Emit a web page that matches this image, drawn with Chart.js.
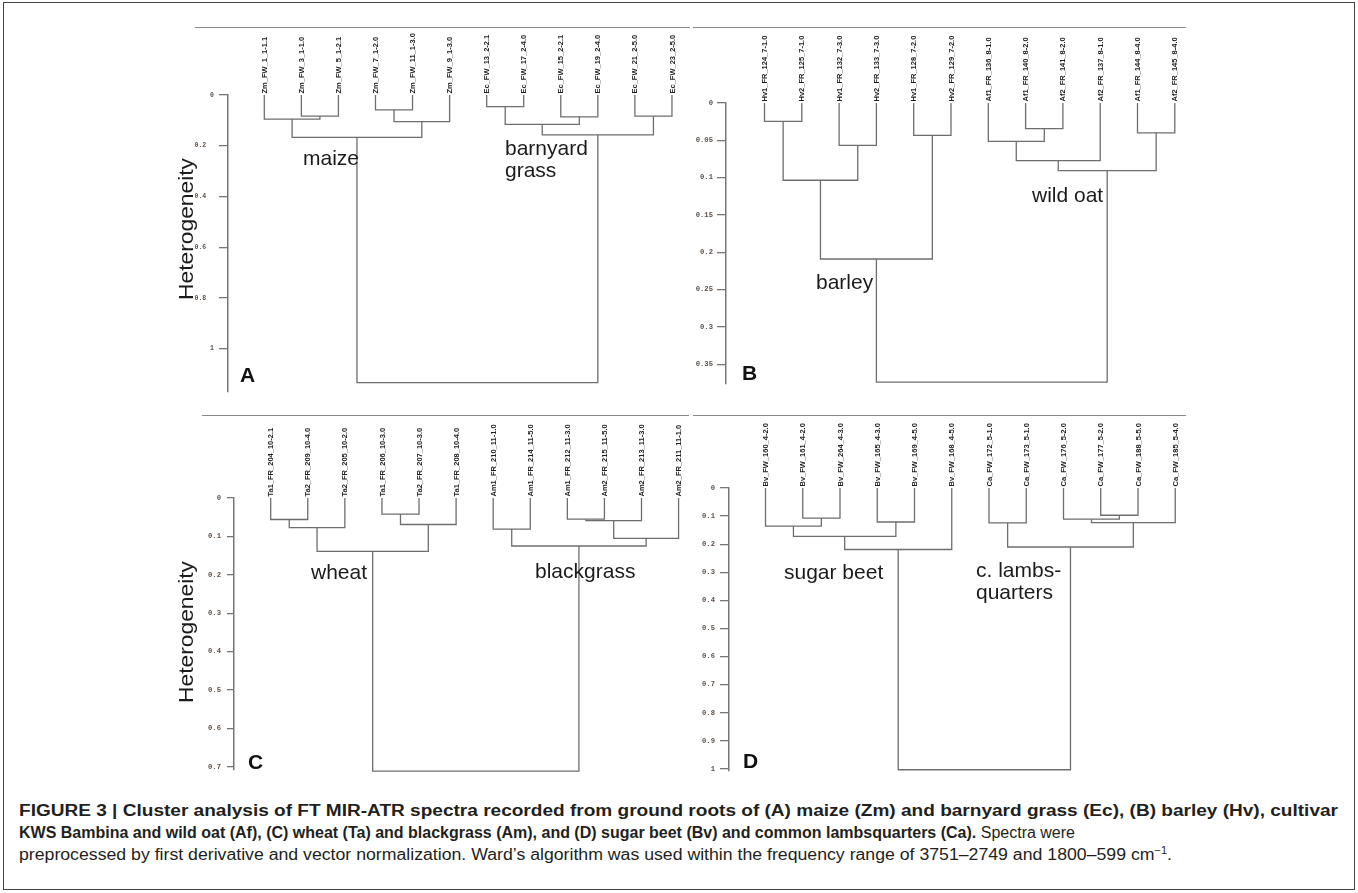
<!DOCTYPE html>
<html>
<head>
<meta charset="utf-8">
<script src="https://cdn.jsdelivr.net/npm/chart.js@4.4.1/dist/chart.umd.min.js"></script>
<style>
  body { margin: 0; background: #fff; width: 1358px; height: 893px; position: relative; overflow: hidden;
         font-family: "Liberation Sans", Arial, sans-serif; }
  .frame { position: absolute; left: 3px; top: 2px; width: 1350px; height: 886px; border: 1px solid #444; }
  canvas { position: absolute; }
  .rule { position: absolute; height: 0; border-top: 1.5px solid #8a8a8a; }
  .lab { position: absolute; font-size: 21px; line-height: 22px; color: #1b1b1b; white-space: nowrap; }
  .pl { position: absolute; font-size: 21px; line-height: 22px; font-weight: bold; color: #111; }
  .ylab { position: absolute; font-size: 20px; line-height: 20px; color: #1b1b1b; white-space: nowrap;
          transform: translate(-50%, -50%) rotate(-90deg) scaleX(1.14); }
  .cap { position: absolute; left: 19px; white-space: nowrap; font-size: 16px; line-height: 18px;
         color: #231f20; transform-origin: 0 50%; }
  .cap sup { font-size: 10px; line-height: 0; }
</style>
</head>
<body>
<div class="frame"></div>

<div class="rule" style="left:195px;top:27px;width:495px"></div>
<div class="rule" style="left:693px;top:27px;width:493px"></div>
<div class="rule" style="left:202px;top:415px;width:487px"></div>
<div class="rule" style="left:693px;top:415px;width:493px"></div>

<canvas id="chartA"></canvas>
<canvas id="chartB"></canvas>
<canvas id="chartC"></canvas>
<canvas id="chartD"></canvas>

<div class="ylab" style="left:186px;top:229px">Heterogeneity</div>
<div class="ylab" style="left:186px;top:632px">Heterogeneity</div>

<div class="lab" style="left:303px;top:147px">maize</div>
<div class="lab" style="left:505px;top:137px">barnyard<br>grass</div>
<div class="lab" style="left:816px;top:271px">barley</div>
<div class="lab" style="left:1032px;top:184px">wild oat</div>
<div class="lab" style="left:311px;top:561px">wheat</div>
<div class="lab" style="left:535px;top:560px">blackgrass</div>
<div class="lab" style="left:784px;top:561px">sugar beet</div>
<div class="lab" style="left:976px;top:559px">c. lambs-<br>quarters</div>

<div class="pl" style="left:240px;top:364px">A</div>
<div class="pl" style="left:742px;top:362px">B</div>
<div class="pl" style="left:248px;top:751px">C</div>
<div class="pl" style="left:743px;top:750px">D</div>

<div class="cap" data-w="1319" style="top:802px"><b>FIGURE 3 | Cluster analysis of FT MIR-ATR spectra recorded from ground roots of (A) maize (Zm) and barnyard grass (Ec), (B) barley (Hv), cultivar</b></div>
<div class="cap" data-w="1056" style="top:824px"><b>KWS Bambina and wild oat (Af), (C) wheat (Ta) and blackgrass (Am), and (D) sugar beet (Bv) and common lambsquarters (Ca).</b> Spectra were</div>
<div class="cap" data-w="1153" style="top:846px">preprocessed by first derivative and vector normalization. Ward’s algorithm was used within the frequency range of 3751–2749 and 1800–599 cm<sup>−1</sup>.</div>

<script>
// ---- data: leaf order, merges [childA, childB, height] (leaves 0..11, merge k -> node 12+k), axis ticks ----
const leavesA = ['Zm_FW_1_1-1.1', 'Zm_FW_3_1-1.0', 'Zm_FW_5_1-2.1', 'Zm_FW_7_1-2.0', 'Zm_FW_11_1-3.0', 'Zm_FW_9_1-3.0',
                 'Ec_FW_13_2-2.1', 'Ec_FW_17_2-4.0', 'Ec_FW_15_2-2.1', 'Ec_FW_19_2-4.0', 'Ec_FW_21_2-5.0', 'Ec_FW_23_2-5.0'];
const mergesA = [[1, 2, 0.083], [0, 12, 0.095], [3, 4, 0.059], [14, 5, 0.105], [13, 15, 0.167],
                 [6, 7, 0.046], [8, 9, 0.086], [17, 18, 0.116], [10, 11, 0.083], [19, 20, 0.157], [16, 21, 1.134]];
const ticksA = [0, 0.2, 0.4, 0.6, 0.8, 1];

const leavesB = ['Hv1_FR_124_7-1.0', 'Hv2_FR_125_7-1.0', 'Hv1_FR_132_7-3.0', 'Hv2_FR_133_7-3.0', 'Hv1_FR_128_7-2.0', 'Hv2_FR_129_7-2.0',
                 'Af1_FR_136_8-1.0', 'Af1_FR_140_8-2.0', 'Af2_FR_141_8-2.0', 'Af2_FR_137_8-1.0', 'Af1_FR_144_8-4.0', 'Af2_FR_145_8-4.0'];
const mergesB = [[0, 1, 0.0245], [2, 3, 0.0567], [12, 13, 0.1035], [4, 5, 0.0433], [14, 15, 0.209],
                 [7, 8, 0.0343], [6, 17, 0.0513], [18, 9, 0.0772], [10, 11, 0.040], [19, 20, 0.0906], [16, 21, 0.374]];
const ticksB = [0, 0.05, 0.1, 0.15, 0.2, 0.25, 0.3, 0.35];

const leavesC = ['Ta1_FR_204_10-2.1', 'Ta2_FR_209_10-4.0', 'Ta2_FR_205_10-2.0', 'Ta1_FR_206_10-3.0', 'Ta2_FR_207_10-3.0', 'Ta1_FR_208_10-4.0',
                 'Am1_FR_210_11-1.0', 'Am1_FR_214_11-5.0', 'Am1_FR_212_11-3.0', 'Am2_FR_215_11-5.0', 'Am2_FR_213_11-3.0', 'Am2_FR_211_11-1.0'];
const mergesC = [[0, 1, 0.056], [12, 2, 0.077], [3, 4, 0.042], [14, 5, 0.069], [13, 15, 0.139],
                 [6, 7, 0.081], [8, 9, 0.055], [18, 10, 0.059], [19, 11, 0.105], [17, 20, 0.125], [16, 21, 0.711]];
const ticksC = [0, 0.1, 0.2, 0.3, 0.4, 0.5, 0.6, 0.7];

const leavesD = ['Bv_FW_160_4-2.0', 'Bv_FW_161_4-2.0', 'Bv_FW_264_4-3.0', 'Bv_FW_165_4-3.0', 'Bv_FW_169_4-5.0', 'Bv_FW_168_4-5.0',
                 'Ca_FW_172_5-1.0', 'Ca_FW_173_5-1.0', 'Ca_FW_176_5-2.0', 'Ca_FW_177_5-2.0', 'Ca_FW_188_5-5.0', 'Ca_FW_185_5-4.0'];
const mergesD = [[1, 2, 0.107], [0, 12, 0.136], [3, 4, 0.121], [13, 14, 0.172], [15, 5, 0.219],
                 [6, 7, 0.1245], [9, 10, 0.097], [8, 18, 0.111], [19, 11, 0.123], [17, 20, 0.21], [16, 21, 1.003]];
const ticksD = [0, 0.1, 0.2, 0.3, 0.4, 0.5, 0.6, 0.7, 0.8, 0.9, 1];

// ---- layout of each panel on the page (pixels) ----
const AXIS_W = 50, PAD_TOP = 80, PAD_BOTTOM = 10;
const panels = [
  { id: 'chartA', leaves: leavesA, merges: mergesA, ticks: ticksA, yMax: 1.171,
    axisX: 228, y0: 95, yEnd: 392, leaf0: 264.3, step: 37.06, right: 690, tickLen: 9, tickPad: 5, tickFont: 6.5, suffix: '  ' },
  { id: 'chartB', leaves: leavesB, merges: mergesB, ticks: ticksB, yMax: 0.3758,
    axisX: 726, y0: 103, yEnd: 383.5, leaf0: 764.5, step: 37.3, right: 1186, tickLen: 9, tickPad: 4, tickFont: 7.2, suffix: '' },
  { id: 'chartC', leaves: leavesC, merges: mergesC, ticks: ticksC, yMax: 0.7067,
    axisX: 234, y0: 498, yEnd: 769.5, leaf0: 270.7, step: 37.08, right: 689, tickLen: 7, tickPad: 6, tickFont: 7.2, suffix: '' },
  { id: 'chartD', leaves: leavesD, merges: mergesD, ticks: ticksD, yMax: 1.0057,
    axisX: 729, y0: 488, yEnd: 770.5, leaf0: 765.5, step: 37.25, right: 1186, tickLen: 9, tickPad: 5, tickFont: 7.2, suffix: '' }
];

function dendroSets(merges, n) {
  const pos = [], hgt = [];
  for (let i = 0; i < n; i++) { pos[i] = i; hgt[i] = 0; }
  return merges.map(([a, b, h], k) => {
    pos[n + k] = (pos[a] + pos[b]) / 2;
    hgt[n + k] = h;
    return {
      data: [{ x: pos[a], y: hgt[a] }, { x: pos[a], y: h }, { x: pos[b], y: h }, { x: pos[b], y: hgt[b] }],
      borderColor: '#6e6e6e',
      borderWidth: 1.3,
      pointRadius: 0,
      showLine: true,
      fill: false,
      tension: 0,
      clip: false
    };
  });
}

// leaf names written upward from the top of each leaf
const leafLabels = {
  id: 'leafLabels',
  afterDatasetsDraw(chart, args, opts) {
    const { ctx, scales: { x, y } } = chart;
    ctx.save();
    ctx.font = 'bold 7.5px "Liberation Sans", Arial, sans-serif';
    ctx.fillStyle = '#1e1e1e';
    ctx.textAlign = 'left';
    ctx.textBaseline = 'middle';
    opts.labels.forEach((t, i) => {
      ctx.save();
      ctx.translate(x.getPixelForValue(i), y.getPixelForValue(0) - 1.5);
      ctx.rotate(-Math.PI / 2);
      ctx.fillText(t, 0, 0.5);
      ctx.restore();
    });
    ctx.restore();
  }
};

panels.forEach(p => {
  const canvas = document.getElementById(p.id);
  const w = AXIS_W + (p.right - p.axisX);
  const h = PAD_TOP + (p.yEnd - p.y0) + PAD_BOTTOM;
  canvas.width = Math.round(w);
  canvas.height = Math.round(h);
  canvas.style.left = (p.axisX - AXIS_W) + 'px';
  canvas.style.top = (p.y0 - PAD_TOP) + 'px';
  const xMin = -(p.leaf0 - p.axisX) / p.step;

  new Chart(canvas, {
    type: 'scatter',
    data: { datasets: dendroSets(p.merges, p.leaves.length) },
    plugins: [leafLabels],
    options: {
      responsive: false,
      animation: false,
      layout: { padding: { top: PAD_TOP, bottom: canvas.height - PAD_TOP - (p.yEnd - p.y0), left: 0, right: 0 } },
      plugins: {
        legend: { display: false },
        tooltip: { enabled: false },
        leafLabels: { labels: p.leaves }
      },
      scales: {
        x: {
          type: 'linear',
          display: false,
          min: xMin,
          max: xMin + (canvas.width - AXIS_W) / p.step
        },
        y: {
          type: 'linear',
          reverse: true,
          min: 0,
          max: p.yMax,
          afterBuildTicks: s => { s.ticks = p.ticks.map(v => ({ value: v })); },
          afterFit: s => { s.width = AXIS_W; },
          grid: {
            drawOnChartArea: false,
            drawTicks: true,
            tickLength: p.tickLen,
            color: '#777',
            lineWidth: 1.3
          },
          border: { display: true, color: '#777', width: 1.5 },
          ticks: {
            autoSkip: false,
            padding: p.tickPad,
            color: '#5e5048',
            font: { family: "'Liberation Mono', 'DejaVu Sans Mono', monospace", size: p.tickFont, weight: 'bold' },
            callback: v => (Number.isInteger(v) ? String(v) : String(v) + p.suffix)
          }
        }
      }
    }
  });
});

// squeeze caption lines to the widths they take in the figure
document.querySelectorAll('.cap').forEach(el => {
  const w = el.getBoundingClientRect().width;
  el.style.transform = 'scaleX(' + (Number(el.dataset.w) / w) + ')';
});
</script>
</body>
</html>
